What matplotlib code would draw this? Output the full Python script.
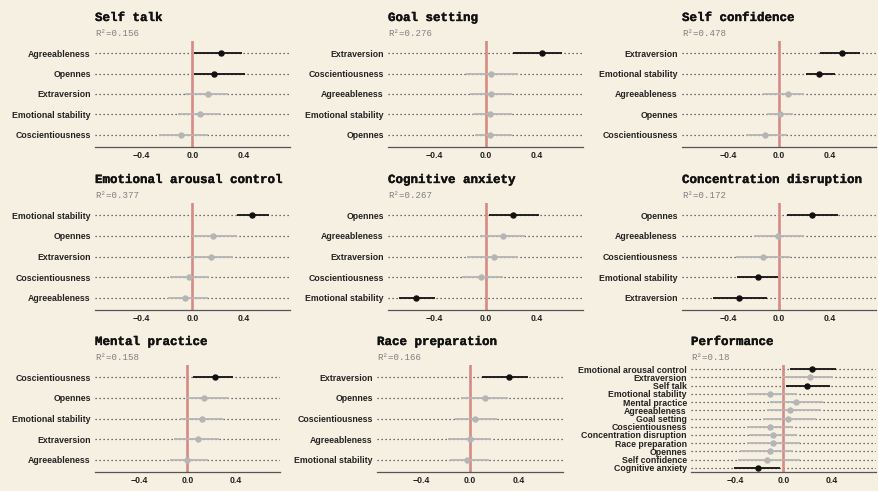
import numpy as np
import matplotlib
matplotlib.use("Agg")
from matplotlib import pyplot as plt
from matplotlib import patheffects
from matplotlib.ticker import FixedLocator, FuncFormatter

#Regression coefficients (estimate, lower CI, upper CI), listed top to bottom
self_talk_terms=["Agreeableness","Opennes","Extraversion","Emotional stability","Coscientiousness"]
self_talk_est=[0.225,0.168,0.123,0.060,-0.089]
self_talk_lo=[0.008,0.008,-0.055,-0.110,-0.260]
self_talk_hi=[0.387,0.414,0.277,0.225,0.118]

goal_terms=["Extraversion","Coscientiousness","Agreeableness","Emotional stability","Opennes"]
goal_est=[0.440,0.047,0.047,0.034,0.034]
goal_lo=[0.212,-0.155,-0.120,-0.100,-0.085]
goal_hi=[0.598,0.252,0.210,0.210,0.210]

conf_terms=["Extraversion","Emotional stability","Agreeableness","Opennes","Coscientiousness"]
conf_est=[0.500,0.315,0.068,0.010,-0.113]
conf_lo=[0.320,0.210,-0.126,-0.097,-0.257]
conf_hi=[0.635,0.440,0.200,0.110,0.060]

arousal_terms=["Emotional stability","Opennes","Extraversion","Coscientiousness","Agreeableness"]
arousal_est=[0.470,0.163,0.142,-0.024,-0.055]
arousal_lo=[0.350,-0.005,-0.030,-0.180,-0.190]
arousal_hi=[0.600,0.347,0.320,0.126,0.120]

anx_terms=["Opennes","Agreeableness","Extraversion","Coscientiousness","Emotional stability"]
anx_est=[0.218,0.140,0.065,-0.034,-0.548]
anx_lo=[0.030,-0.040,-0.145,-0.185,-0.678]
anx_hi=[0.420,0.310,0.257,0.140,-0.400]

disr_terms=["Opennes","Agreeableness","Coscientiousness","Emotional stability","Extraversion"]
disr_est=[0.258,-0.008,-0.123,-0.167,-0.316]
disr_lo=[0.065,-0.196,-0.340,-0.334,-0.517]
disr_hi=[0.465,0.196,0.090,-0.005,-0.097]

mental_terms=["Coscientiousness","Opennes","Emotional stability","Extraversion","Agreeableness"]
mental_est=[0.226,0.136,0.116,0.088,-0.006]
mental_lo=[0.045,-0.010,-0.062,-0.113,-0.147]
mental_hi=[0.376,0.347,0.290,0.263,0.170]

race_terms=["Extraversion","Opennes","Coscientiousness","Agreeableness","Emotional stability"]
race_est=[0.320,0.125,0.042,0.000,-0.025]
race_lo=[0.100,-0.075,-0.125,-0.178,-0.167]
race_hi=[0.480,0.314,0.225,0.175,0.160]

perf_terms=["Emotional arousal control","Extraversion","Self talk","Emotional stability",
    "Mental practice","Agreeableness","Goal setting","Coscientiousness",
    "Concentration disruption","Race preparation","Opennes","Self confidence","Cognitive anxiety"]
perf_est=[0.238,0.222,0.195,-0.108,0.100,0.057,0.038,-0.114,-0.084,-0.087,-0.114,-0.135,-0.211]
perf_lo=[0.054,-0.010,0.022,-0.300,-0.110,-0.135,-0.168,-0.300,-0.285,-0.300,-0.358,-0.380,-0.410]
perf_hi=[0.434,0.410,0.385,0.108,0.330,0.310,0.270,0.080,0.108,0.135,0.076,0.135,-0.027]

panels=[
    ("Self talk","0.156",self_talk_terms,self_talk_est,self_talk_lo,self_talk_hi),
    ("Goal setting","0.276",goal_terms,goal_est,goal_lo,goal_hi),
    ("Self confidence","0.478",conf_terms,conf_est,conf_lo,conf_hi),
    ("Emotional arousal control","0.377",arousal_terms,arousal_est,arousal_lo,arousal_hi),
    ("Cognitive anxiety","0.267",anx_terms,anx_est,anx_lo,anx_hi),
    ("Concentration disruption","0.172",disr_terms,disr_est,disr_lo,disr_hi),
    ("Mental practice","0.158",mental_terms,mental_est,mental_lo,mental_hi),
    ("Race preparation","0.166",race_terms,race_est,race_lo,race_hi),
    ("Performance","0.18",perf_terms,perf_est,perf_lo,perf_hi),
]

#Layout in pixels: (left, right, top, bottom)
W,H=879,491
boxes=[(95,290,41,147),(388,583,41,147),(682,876,41,147),
       (95,290,203,310),(388,583,203,310),(682,876,203,310),
       (95,280,365,472),(377,563,365,472),(691,876,365,472)]

BG="#f6f0e3"
SIG="#111111"
NONSIG="#b5b5b5"
ZERO="#d68a84"

fig=plt.figure(figsize=(W/100,H/100),dpi=100,facecolor=BG)

def fmt(v,pos):
    return ("%.1f"%v).replace("-","\u2212")

#thicken the mono titles a little
heavy=[patheffects.withStroke(linewidth=0.25,foreground="#111111")]

for (title,r2,terms,est,lo,hi),(l,r,t,b) in zip(panels,boxes):
    ax=fig.add_axes([l/W,1-b/H,(r-l)/W,(b-t)/H],facecolor=BG)
    n=len(terms)
    y=np.arange(n,0,-1)
    pad=0.5 if n>5 else 0.6
    ax.set_xlim(-0.765,0.765)
    ax.set_ylim(1-pad,n+pad)
    for yi in y:
        ax.plot([-0.765,0.765],[yi,yi],color="#444444",lw=0.9,
            linestyle=(0,(1,2.2)),zorder=1)
    ax.axvline(0,color=ZERO,lw=1.9,zorder=2)
    for yi,e,a,c in zip(y,est,lo,hi):
        col=SIG if (a>0 or c<0) else NONSIG
        ax.plot([a,c],[yi,yi],color=col,lw=1.3,solid_capstyle="butt",zorder=3)
        ax.plot(e,yi,"o",color=col,ms=3.6,zorder=4)
    ax.set_yticks(y)
    ax.set_yticklabels(terms,fontsize=6.3,fontweight="bold",color="#222222",
        family="Liberation Sans")
    ax.xaxis.set_major_locator(FixedLocator([-0.4,0.0,0.4]))
    ax.xaxis.set_major_formatter(FuncFormatter(fmt))
    for lab in ax.get_xticklabels():
        lab.set_fontsize(6.3)
        lab.set_fontweight("bold")
        lab.set_family("Liberation Sans")
        lab.set_color("#222222")
    ax.tick_params(length=0,pad=3)
    ax.tick_params(axis="y",pad=3)
    for s in ["top","right","left"]:
        ax.spines[s].set_visible(False)
    ax.spines["bottom"].set_color("#555555")
    ax.spines["bottom"].set_linewidth(0.9)
    fig.text(l/W,1-(t-20)/H,title,family="Liberation Mono",fontweight="bold",
        fontsize=9,color="#111111",ha="left",va="baseline",path_effects=heavy)
    fig.text(l/W,1-(t-5)/H,"R\u00b2=%s"%r2,family="Liberation Mono",
        fontsize=6.6,color="#808080",ha="left",va="baseline")

fig.savefig("out.png",dpi=100,facecolor=BG)
